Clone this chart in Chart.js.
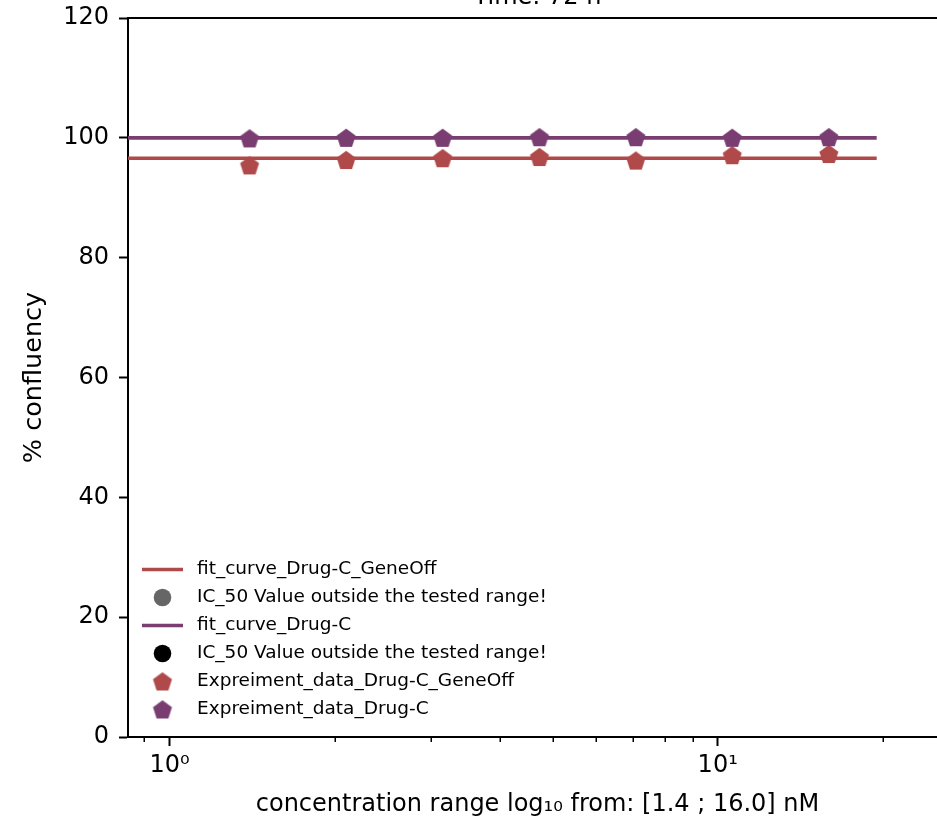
<!DOCTYPE html>
<html><head><meta charset="utf-8">
<style>html,body{margin:0;padding:0;overflow:hidden;background:#fff;} canvas{display:block;}</style>
<script src="https://cdn.jsdelivr.net/npm/chart.js@4.4.1/dist/chart.umd.min.js"></script>
</head><body>
<canvas id="c" width="960" height="819"></canvas>
<script>
// ---- data ----
const concentrations = [1.4, 2.1, 3.15, 4.73, 7.09, 10.63, 15.95];
const dataGeneOff = [95.4, 96.3, 96.6, 96.8, 96.2, 97.1, 97.3];
const dataDrugC = [99.9, 100.0, 100.0, 100.1, 100.1, 100.0, 100.1];
const fitX = [0.8, 1.4, 2.1, 3.15, 4.73, 7.09, 10.63, 15.95, 19.5];
const fitGeneOff = [96.6, 96.6, 96.6, 96.6, 96.6, 96.6, 96.6, 96.6, 96.6];
const fitDrugC = [100.0, 100.0, 100.0, 100.0, 100.0, 100.0, 100.0, 100.0, 100.0];
const yTicks = [0, 20, 40, 60, 80, 100, 120];
const xMajorTicks = [1, 10];
const xMinorTicks = [0.9, 2, 3, 4, 5, 6, 7, 8, 9, 20];
const xTickLabels = {1: '10\u2070', 10: '10\u00B9'};
const legendLabels = ['fit_curve_Drug-C_GeneOff', 'IC_50 Value outside the tested range!', 'fit_curve_Drug-C',
  'IC_50 Value outside the tested range!', 'Expreiment_data_Drug-C_GeneOff', 'Expreiment_data_Drug-C'];
const titleText = 'Time: 72 h';

// ---- styles ----
const RED = '#b0494a';
const PURPLE = '#7a3d72';
const GREY = '#666666';
const BLACK = '#000000';
const FONT = 'DejaVu Sans';
const X_MIN = 0.840, X_MAX = 26.2;

function pentagon(color, R) {
  const s = 24;
  const c = document.createElement('canvas');
  c.width = s; c.height = s;
  const g = c.getContext('2d');
  g.fillStyle = color;
  g.beginPath();
  for (let i = 0; i < 5; i++) {
    const a = -Math.PI / 2 + i * 2 * Math.PI / 5;
    const x = s / 2 + R * Math.cos(a), y = s / 2 + 0.8 + R * Math.sin(a);
    if (i) g.lineTo(x, y); else g.moveTo(x, y);
  }
  g.closePath(); g.fill();
  return c;
}
const pentRed = pentagon(RED, 10);
const pentPurple = pentagon(PURPLE, 10);

const legendItems = [
  {kind: 'line', color: RED},
  {kind: 'circle', color: GREY},
  {kind: 'line', color: PURPLE},
  {kind: 'circle', color: BLACK},
  {kind: 'img', img: pentRed},
  {kind: 'img', img: pentPurple}
];

const decorPlugin = {
  id: 'decor',
  afterDraw(chart) {
    const ctx = chart.ctx, a = chart.chartArea, xs = chart.scales.x;
    ctx.save();
    // top & right spines
    ctx.strokeStyle = '#000'; ctx.lineWidth = 2;
    ctx.beginPath(); ctx.moveTo(a.left, a.top); ctx.lineTo(a.right, a.top); ctx.lineTo(a.right, a.bottom); ctx.stroke();
    // minor ticks
    ctx.lineWidth = 1.5;
    xMinorTicks.forEach(v => {
      const px = Math.round(xs.getPixelForValue(v)) + 0.25;
      ctx.beginPath(); ctx.moveTo(px, a.bottom); ctx.lineTo(px, a.bottom + 5); ctx.stroke();
    });
    // title (mostly cut off at top)
    ctx.fillStyle = '#000';
    ctx.font = '24px "' + FONT + '"';
    ctx.textAlign = 'center'; ctx.textBaseline = 'alphabetic';
    ctx.fillText(titleText, (a.left + a.right) / 2, 3.5);
    // legend
    ctx.font = '18.5px "' + FONT + '"';
    ctx.textAlign = 'left'; ctx.textBaseline = 'middle';
    legendItems.forEach((it, i) => {
      const y = 569.5 + i * 28;
      if (it.kind === 'line') {
        ctx.strokeStyle = it.color; ctx.lineWidth = 3.6;
        ctx.beginPath(); ctx.moveTo(142, y); ctx.lineTo(183, y); ctx.stroke();
      } else if (it.kind === 'circle') {
        ctx.fillStyle = it.color;
        ctx.beginPath(); ctx.arc(162.5, y, 8.8, 0, Math.PI * 2); ctx.fill();
      } else {
        ctx.drawImage(it.img, 162.5 - 12, y - 12);
      }
      ctx.fillStyle = '#000';
      ctx.fillText(legendLabels[i], 197, y);
    });
    ctx.restore();
  }
};

function noPad(s) { s.paddingTop = 0; s.paddingBottom = 0; s.paddingLeft = 0; s.paddingRight = 0; }

new Chart(document.getElementById('c'), {
  type: 'scatter',
  data: {
    datasets: [
      {label: legendLabels[0], type: 'line', data: fitX.map((x, i) => ({x, y: fitGeneOff[i]})),
        borderColor: RED, borderWidth: 3.6, pointRadius: 0, fill: false, order: 6},
      {label: legendLabels[2], type: 'line', data: fitX.map((x, i) => ({x, y: fitDrugC[i]})),
        borderColor: PURPLE, borderWidth: 3.6, pointRadius: 0, fill: false, order: 5},
      {label: legendLabels[4], data: concentrations.map((x, i) => ({x, y: dataGeneOff[i]})),
        pointStyle: pentRed, pointRadius: 10, order: 2},
      {label: legendLabels[5], data: concentrations.map((x, i) => ({x, y: dataDrugC[i]})),
        pointStyle: pentPurple, pointRadius: 10, order: 1}
    ]
  },
  options: {
    responsive: false,
    animation: false,
    events: [],
    layout: {padding: {top: 18, right: 13, left: 0, bottom: 0}},
    plugins: {legend: {display: false}, tooltip: {enabled: false}},
    scales: {
      x: {
        type: 'logarithmic', min: X_MIN, max: X_MAX,
        afterFit: s => { s.height = 82; noPad(s); },
        afterBuildTicks: s => {
          s.ticks = [...xMajorTicks, ...xMinorTicks].sort((p, q) => p - q).map(v => ({value: v, major: xMajorTicks.includes(v)}));
        },
        ticks: {autoSkip: false, maxRotation: 0, minRotation: 0, padding: 5, color: '#000',
          font: {family: FONT, size: 24}, callback: v => xTickLabels[v] || ''},
        grid: {display: true, drawOnChartArea: false, drawTicks: true, tickLength: 9, tickWidth: 2,
          tickColor: c => (c.tick && xMajorTicks.includes(c.tick.value)) ? '#000' : 'rgba(0,0,0,0)'},
        border: {display: true, color: '#000', width: 2},
        title: {display: true, text: 'concentration range log\u2081\u2080 from: [1.4 ; 16.0] nM', color: '#000',
          font: {family: FONT, size: 24}, padding: {top: 0, bottom: 0}}
      },
      y: {
        min: 0, max: 120,
        afterFit: s => { s.width = 128; noPad(s); },
        afterBuildTicks: s => { s.ticks = yTicks.map(v => ({value: v})); },
        ticks: {color: '#000', font: {family: FONT, size: 24}, padding: 10},
        grid: {display: true, drawOnChartArea: false, drawTicks: true, tickLength: 9, tickWidth: 2, tickColor: '#000'},
        border: {display: true, color: '#000', width: 2},
        title: {display: true, text: '% confluency', color: '#000', font: {family: FONT, size: 25.5}, padding: {top: 19, bottom: 0}}
      }
    }
  },
  plugins: [decorPlugin]
});
</script>
</body></html>
